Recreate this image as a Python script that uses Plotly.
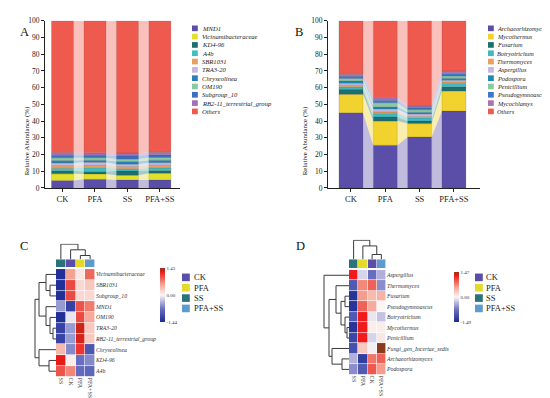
import plotly.graph_objects as go
import numpy as np

W, H = 550, 398
def px(x): return x / W
def py(y): return 1 - y / H

FONT = "Liberation Serif"

# ---------------- data ----------------
groups = ["CK", "PFA", "SS", "PFA+SS"]
group_colors = ["#5B4EA8", "#E3DA2C", "#2A7378", "#5C9BCB"]

bac_names = ["MND1", "Vicinamibacteraceae", "KD4-96", "A4b", "SBR1031", "TRA3-20",
             "Chryseolinea", "OM190", "Subgroup_10", "RB2-11_terrestrial_group", "Others"]
bac_colors = ["#5B4EA8", "#E3E02A", "#1F6E6E", "#3FBFC0", "#E8A060", "#C4B8E0",
              "#2A7FB8", "#8CC8A0", "#3A6FC0", "#A070B8", "#EE5A4E"]
bac_CK = [4.5, 4.0, 1.8, 1.5, 1.6, 1.5, 1.5, 1.6, 1.6, 1.6, 78.8]
bac_PFA = [5.2, 3.2, 1.5, 2.2, 1.4, 1.8, 1.3, 1.5, 1.4, 1.5, 79.0]
bac_SS = [4.8, 2.8, 2.6, 1.3, 1.3, 1.4, 1.6, 1.5, 1.8, 1.8, 79.1]
bac_PFASS = [4.8, 4.0, 1.6, 1.6, 1.6, 1.5, 1.5, 1.6, 1.6, 1.6, 78.6]

fun_names = ["Archaeorhizomyces", "Mycothermus", "Fusarium", "Botryotrichum", "Thermomyces",
             "Aspergillus", "Podospora", "Penicillium", "Pseudogymnoascus", "Mycochlamys", "Others"]
fun_colors = ["#5B4EA8", "#F2D22E", "#1F6E6E", "#40B8C0", "#E8A060", "#C4B8E0",
              "#1F88B8", "#8CC8A0", "#3A78C8", "#A874B8", "#EE5A4E"]
fun_CK = [45.0, 11.0, 3.0, 1.5, 1.0, 1.2, 1.3, 1.5, 1.3, 1.2, 32.0]
fun_PFA = [25.5, 14.5, 2.5, 2.0, 1.0, 1.8, 1.2, 2.5, 1.5, 1.5, 46.0]
fun_SS = [30.5, 8.0, 1.5, 2.0, 0.8, 1.5, 1.0, 1.5, 1.0, 1.2, 51.0]
fun_PFASS = [46.0, 12.0, 2.5, 2.0, 1.0, 1.0, 1.2, 1.3, 1.5, 1.5, 30.0]

# heatmap C (bacteria, row z-scores)
hc_cols = ["SS", "CK", "PFA", "PFA+SS"]
hc_rows = ["Vicinamibacteraceae", "SBR1031", "Subgroup_10", "MND1", "OM190", "TRA3-20",
           "RB2-11_terrestrial_group", "Chryseolinea", "KD4-96", "A4b"]
hc_SS = [-1.40, -1.40, -1.40, -0.50, -1.40, -1.20, -1.20, 0.40, 1.25, 0.95]
hc_CK = [0.55, 1.00, 1.00, -1.20, -0.10, -0.50, -0.50, -0.60, 0.05, 0.70]
hc_PFA = [0.10, 0.20, 0.20, 0.95, 1.00, 1.30, 1.28, 1.10, -0.75, -0.80]
hc_PFASS = [0.85, 0.30, 0.20, 0.75, 0.50, 0.30, 0.30, -1.00, -0.60, -0.85]
hc_zmin, hc_zmax = -1.44, 1.43
hc_row_merges = [(1, 2, 6), (0, 10, 10), (5, 6, 3), (4, 12, 6), (3, 13, 10),
                 (11, 14, 17), (8, 9, 7), (7, 16, 17), (15, 17, 21)]
hc_col_merges = [(2, 3, 4), (1, 4, 10), (0, 5, 16)]

# heatmap D (fungi, row z-scores)
hd_cols = ["SS", "PFA", "CK", "PFA+SS"]
hd_rows = ["Aspergillus", "Thermomyces", "Fusarium", "Pseudogymnoascus", "Botryotrichum",
           "Mycothermus", "Penicillium", "Fungi_gen_Incertae_sedis", "Archaeorhizomyces", "Podospora"]
hd_SS = [1.25, -1.00, -1.40, -1.40, -1.00, -1.40, -1.20, -1.10, -0.40, -0.60]
hd_PFA = [-0.20, 0.70, 0.60, 0.90, 1.25, 1.25, 1.25, 0.30, -1.30, -1.00]
hd_CK = [-0.80, 0.90, 0.40, 0.50, -0.10, 0.05, -0.20, -0.05, 0.80, 0.95]
hd_PFASS = [-0.40, -0.60, 0.45, 0.00, -0.30, 0.05, 0.10, 1.47, 0.90, 0.60]
hd_zmin, hd_zmax = -1.49, 1.47
hd_row_merges = [(5, 6, 2), (4, 10, 4), (2, 3, 4), (12, 11, 8), (1, 13, 13),
                 (8, 9, 7), (7, 15, 17), (14, 16, 20), (0, 17, 25)]
hd_col_merges = [(2, 3, 5), (1, 4, 14), (0, 5, 20)]

heat_scale = [[0, "#1C2C95"], [0.25, "#6C72C2"], [0.5, "#FBF6F6"],
              [0.7, "#F4A090"], [0.85, "#EC4A40"], [0.93, "#F01818"], [1, "#8C3A1C"]]

# ---------------- helpers ----------------
def rgba(hexc, a):
    h = hexc.lstrip("#")
    return "rgba(%d,%d,%d,%.2f)" % (int(h[0:2], 16), int(h[2:4], 16), int(h[4:6], 16), a)

def dendro(n, merges):
    pos = {i: float(i) for i in range(n)}
    hgt = {i: 0.0 for i in range(n)}
    P, Hh = [], []
    for k, (a, b, h) in enumerate(merges):
        pa, pb = pos[a], pos[b]
        P += [pa, pa, pb, pb, None]
        Hh += [hgt[a], h, h, hgt[b], None]
        pos[n + k] = (pa + pb) / 2
        hgt[n + k] = h
    return P, Hh

fig = go.Figure()

def stacked_panel(xa, ya, names, colors, series, width):
    data = np.array(series)  # groups x species
    tops = np.cumsum(data, axis=1)
    bots = tops - data
    xs = np.arange(len(groups))
    for k in range(len(names)):
        for i in range(len(groups) - 1):
            bx = [xs[i] + width / 2, xs[i] + width / 2, xs[i + 1] - width / 2, xs[i + 1] - width / 2, xs[i] + width / 2]
            by = [bots[i, k], tops[i, k], tops[i + 1, k], bots[i + 1, k], bots[i, k]]
            fig.add_trace(go.Scatter(x=bx, y=by, fill="toself", mode="lines", line=dict(width=0),
                                     fillcolor=rgba(colors[k], 0.38), xaxis=xa, yaxis=ya,
                                     showlegend=False, hoverinfo="skip"))
    for k in range(len(names)):
        fig.add_trace(go.Bar(x=xs, y=data[:, k], base=bots[:, k], width=width, name=names[k],
                             marker=dict(color=colors[k], line=dict(color="rgba(70,70,70,0.45)", width=0.4)),
                             xaxis=xa, yaxis=ya, showlegend=False))

stacked_panel("x", "y", bac_names, bac_colors, [bac_CK, bac_PFA, bac_SS, bac_PFASS], 0.68)
stacked_panel("x2", "y2", fun_names, fun_colors, [fun_CK, fun_PFA, fun_SS, fun_PFASS], 0.70)

def heat_panel(ax_h, ax_s, ax_t, ax_l, cols, rows, colvals, zmin, zmax, rmerges, cmerges, cb):
    z = np.array(colvals).T
    fig.add_trace(go.Heatmap(z=z, x=list(range(len(cols))), y=list(range(len(rows))),
                             colorscale=heat_scale, zmin=zmin, zmax=zmax, xgap=0.6, ygap=0.6,
                             xaxis=ax_h[0], yaxis=ax_h[1], colorbar=cb, hoverinfo="skip"))
    gi = [groups.index(c) for c in cols]
    cs = []
    for j, c in enumerate(group_colors):
        lo = max(0, (j - 0.5) / 3); hi = min(1, (j + 0.5) / 3)
        cs += [[lo, c], [hi, c]]
    fig.add_trace(go.Heatmap(z=[gi], x=list(range(len(cols))), colorscale=cs, zmin=0, zmax=3,
                             showscale=False, xgap=0.6, xaxis=ax_s[0], yaxis=ax_s[1], hoverinfo="skip"))
    P, Hh = dendro(len(cols), cmerges)
    fig.add_trace(go.Scatter(x=P, y=Hh, mode="lines", line=dict(color="#3a3a3a", width=1),
                             xaxis=ax_t[0], yaxis=ax_t[1], showlegend=False, hoverinfo="skip"))
    P, Hh = dendro(len(rows), rmerges)
    fig.add_trace(go.Scatter(x=Hh, y=P, mode="lines", line=dict(color="#3a3a3a", width=1),
                             xaxis=ax_l[0], yaxis=ax_l[1], showlegend=False, hoverinfo="skip"))

def cbar(x, ymid, length, zmin, zmax):
    return dict(x=px(x), xanchor="left", y=py(ymid), yanchor="middle", len=length, lenmode="pixels",
                thickness=5, xpad=0, ypad=0, outlinewidth=0, ticks="",
                tickvals=[zmin, 0, zmax], ticktext=["%.2f" % zmin, "0.00", "%.2f" % zmax],
                tickfont=dict(family=FONT, size=5, color="#333"))

heat_panel(("x3", "y3"), ("x4", "y4"), ("x5", "y5"), ("x6", "y6"), hc_cols, hc_rows,
           [hc_SS, hc_CK, hc_PFA, hc_PFASS], hc_zmin, hc_zmax, hc_row_merges, hc_col_merges,
           cbar(152, 290, 54, hc_zmin, hc_zmax))
heat_panel(("x7", "y7"), ("x8", "y8"), ("x9", "y9"), ("x10", "y10"), hd_cols, hd_rows,
           [hd_SS, hd_PFA, hd_CK, hd_PFASS], hd_zmin, hd_zmax, hd_row_merges, hd_col_merges,
           cbar(446, 292, 50, hd_zmin, hd_zmax))

# ---------------- layout ----------------
def dom(a, b): return [a / W, b / W]
def vdom(top, bottom): return [1 - bottom / H, 1 - top / H]

hidden = dict(visible=False, showgrid=False, zeroline=False, fixedrange=True)
bar_x = dict(tickvals=list(range(len(groups))), ticktext=groups, ticks="outside", ticklen=3,
             tickcolor="#222", showline=True, linecolor="#222", linewidth=1, showgrid=False,
             zeroline=False, tickfont=dict(family=FONT, size=8.5, color="#222"))
bar_y = dict(range=[0, 100], dtick=10, ticks="outside", ticklen=3, tickcolor="#222", showline=True,
             linecolor="#222", linewidth=1, showgrid=False, zeroline=False,
             tickfont=dict(family=FONT, size=7.5, color="#222"))

layout = dict(
    width=W, height=H, margin=dict(l=0, r=0, t=0, b=0), paper_bgcolor="white",
    plot_bgcolor="rgba(0,0,0,0)", showlegend=False, barmode="overlay",
    xaxis=dict(domain=dom(37, 172), range=[-0.54, 3.62], anchor="y", **bar_x),
    yaxis=dict(domain=vdom(9, 180), anchor="x", **bar_y),
    xaxis2=dict(domain=dom(320, 472), range=[-0.67, 3.76], anchor="y2", **bar_x),
    yaxis2=dict(domain=vdom(9, 180), anchor="x2", **bar_y),
)

def heat_axes(n_x, n_y, xd, yd, cols, rows):
    layout["xaxis%d" % n_x] = dict(domain=xd, anchor="y%d" % n_y, range=[-0.5, len(cols) - 0.5],
                                   tickvals=list(range(len(cols))), ticktext=cols, tickangle=90,
                                   ticks="", showgrid=False, zeroline=False, showline=False,
                                   tickfont=dict(family=FONT, size=6, color="#333"))
    layout["yaxis%d" % n_y] = dict(domain=yd, anchor="x%d" % n_x, side="right",
                                   range=[len(rows) - 0.5, -0.5], tickvals=list(range(len(rows))),
                                   ticktext=rows, ticks="", showgrid=False, zeroline=False,
                                   tickfont=dict(family=FONT, size=5.8, color="#333", style="italic"))

heat_axes(3, 3, dom(48, 87), vdom(263, 373), hc_cols, hc_rows)
layout["xaxis4"] = dict(domain=dom(48, 87), anchor="y4", range=[-0.5, 3.5], **hidden)
layout["yaxis4"] = dict(domain=vdom(253, 261), anchor="x4", range=[-0.5, 0.5], **hidden)
layout["xaxis5"] = dict(domain=dom(48, 87), anchor="y5", range=[-0.5, 3.5], **hidden)
layout["yaxis5"] = dict(domain=vdom(237, 253), anchor="x5", range=[0, 16.5], **hidden)
layout["xaxis6"] = dict(domain=dom(25, 48), anchor="y6", range=[23, 0], **hidden)
layout["yaxis6"] = dict(domain=vdom(263, 373), anchor="x6", range=[9.5, -0.5], **hidden)

heat_axes(7, 7, dom(341, 378), vdom(264, 371), hd_cols, hd_rows)
layout["xaxis8"] = dict(domain=dom(341, 378), anchor="y8", range=[-0.5, 3.5], **hidden)
layout["yaxis8"] = dict(domain=vdom(253, 262), anchor="x8", range=[-0.5, 0.5], **hidden)
layout["xaxis9"] = dict(domain=dom(341, 378), anchor="y9", range=[-0.5, 3.5], **hidden)
layout["yaxis9"] = dict(domain=vdom(233, 253), anchor="x9", range=[0, 20.5], **hidden)
layout["xaxis10"] = dict(domain=dom(314, 341), anchor="y10", range=[27, 0], **hidden)
layout["yaxis10"] = dict(domain=vdom(264, 371), anchor="x10", range=[9.5, -0.5], **hidden)

fig.update_layout(**layout)

shapes, annots = [], []

def legend_block(names, colors, sq_x, txt_x, y0, step, size, fsize, italic=True):
    for i, (n, c) in enumerate(zip(names, colors)):
        yc = y0 + i * step
        shapes.append(dict(type="rect", xref="paper", yref="paper",
                           x0=px(sq_x), x1=px(sq_x + size), y0=py(yc + size / 2), y1=py(yc - size / 2),
                           fillcolor=c, line=dict(width=0)))
        annots.append(dict(xref="paper", yref="paper", x=px(txt_x), y=py(yc), xanchor="left",
                           yanchor="middle", showarrow=False, text=n, borderpad=0,
                           font=dict(family=FONT, size=fsize, color="#222",
                                     style="italic" if italic else "normal")))

legend_block(bac_names, bac_colors, 184, 192.5, 16.7, 8.5, 5.8, 6.6)
legend_block(fun_names, fun_colors, 480, 488, 16.7, 8.5, 5.8, 6.3)
legend_block(groups, group_colors, 174, 184.5, 271.5, 10.6, 7.8, 8.5, italic=False)
legend_block(groups, group_colors, 467, 477, 271.5, 10.6, 7.8, 8.5, italic=False)

for t, x, y in [("A", 10, 11), ("B", 291, 11), ("C", 10, 239), ("D", 292, 239)]:
    annots.append(dict(xref="paper", yref="paper", x=px(x), y=py(y), showarrow=False, text=t,
                       font=dict(family=FONT, size=12.5, color="#111")))
for x in (13, 297):
    annots.append(dict(xref="paper", yref="paper", x=px(x), y=py(95), showarrow=False,
                       text="Relative Abundance (%)", textangle=-90,
                       font=dict(family=FONT, size=7, color="#222")))

fig.update_layout(shapes=shapes, annotations=annots)
fig.write_html("out.html")
